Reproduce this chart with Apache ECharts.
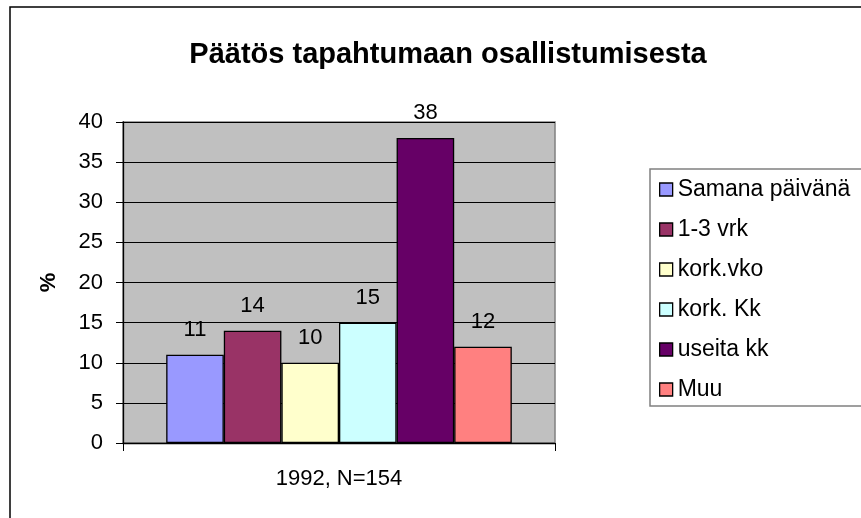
<!DOCTYPE html>
<html>
<head>
<meta charset="utf-8">
<title>Päätös tapahtumaan osallistumisesta</title>
<script src="https://cdn.jsdelivr.net/npm/echarts@6/dist/echarts.min.js"></script>
<style>
html, body { margin: 0; padding: 0; background: #fff; }
#chart { width: 861px; height: 518px; }
</style>
</head>
<body>
<div id="chart"></div>
<script>
// luokka ja sarjat
var categories = ['1992, N=154'];
var seriesNames = ['Samana päivänä', '1-3 vrk', 'kork.vko', 'kork. Kk', 'useita kk', 'Muu'];
var seriesValues = [11, 14, 10, 15, 38, 12];
var seriesColors = ['#9999FF', '#993366', '#FFFFCC', '#CCFFFF', '#660066', '#FF8080'];

var font = 'Liberation Sans, Arial, sans-serif';

var series = [];
for (var i = 0; i < seriesNames.length; i++) {
	series.push({
		name: seriesNames[i],
		type: 'bar',
		data: [seriesValues[i]],
		barGap: '0%',
		barCategoryGap: '20%',
		itemStyle: { color: seriesColors[i], borderColor: '#000', borderWidth: 1.3 },
		label: {
			show: true, position: 'top', distance: 14,
			color: '#000', fontSize: 22, fontFamily: font
		}
	});
}

var chart = echarts.init(document.getElementById('chart'));
var option = {
	animation: false,
	backgroundColor: '#fff',
	title: {
		text: 'Päätös tapahtumaan osallistumisesta',
		left: 443, top: 35, textAlign: 'center',
		textStyle: { fontSize: 29, fontWeight: 'bold', color: '#000', fontFamily: font }
	},
	legend: {
		orient: 'vertical',
		left: 650, top: 169,
		padding: [9, 60, 5, 9],
		itemWidth: 13, itemHeight: 13,
		itemGap: 17,
		borderColor: '#808080', borderWidth: 1.5,
		icon: 'rect',
		itemStyle: { borderColor: '#000', borderWidth: 1.3 },
		textStyle: { fontSize: 23, color: '#000', fontFamily: font },
		data: seriesNames
	},
	grid: { left: 123, right: 306, top: 122, bottom: 75, show: true, backgroundColor: '#C0C0C0', borderColor: '#808080', borderWidth: 1.5 },
	xAxis: {
		type: 'category',
		data: categories,
		axisLine: { lineStyle: { color: '#000', width: 1.3 } },
		axisTick: { show: true, length: 8, lineStyle: { color: '#000' } },
		axisLabel: { color: '#000', fontSize: 22, fontFamily: font, margin: 25 }
	},
	yAxis: {
		type: 'value',
		min: 0, max: 40, interval: 5,
		name: '%',
		nameLocation: 'middle',
		nameGap: 63,
		nameTextStyle: { fontSize: 22, fontWeight: 'bold', color: '#000', fontFamily: font },
		axisLine: { show: true, lineStyle: { color: '#000', width: 1.3 } },
		axisTick: { show: true, length: 7, lineStyle: { color: '#000' } },
		axisLabel: { color: '#000', fontSize: 22, fontFamily: font, margin: 20 },
		splitLine: { show: true, lineStyle: { color: '#000', width: 1 } }
	},
	graphic: [{
		type: 'rect',
		shape: { x: 10, y: 7, width: 1000, height: 700 },
		style: { fill: 'none', stroke: '#000', lineWidth: 1.5 },
		silent: true, z: -1
	}],
	series: series
};
chart.setOption(option);
</script>
</body>
</html>
